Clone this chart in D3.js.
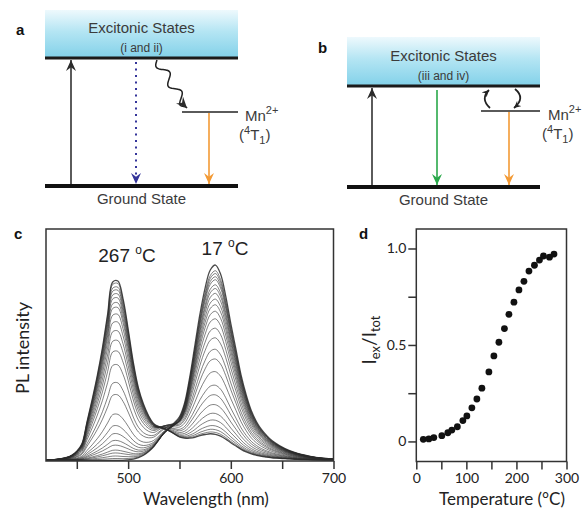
<!DOCTYPE html>
<html>
<head>
<meta charset="utf-8">
<script src="https://cdn.jsdelivr.net/npm/d3@7"></script>
<style>
  body { margin: 0; background: #fff; }
  svg { display: block; }
</style>
</head>
<body>
<div id="fig"></div>
<script>
// ---- data ----

// panel d: temperature (C) and I_ex / I_tot
var temps = [14, 25, 35, 51, 63, 71, 82, 93, 101, 111, 121, 131, 145, 155, 165, 176, 185, 195, 205, 215, 225, 236, 246, 254, 266, 275];
var ratio = [0.011, 0.013, 0.02, 0.03, 0.045, 0.059, 0.076, 0.108, 0.132, 0.174, 0.22, 0.276, 0.36, 0.443, 0.514, 0.585, 0.659, 0.722, 0.785, 0.83, 0.883, 0.913, 0.94, 0.961, 0.955, 0.971];

// panel c: wavelength grid (nm) and the two band shapes
var wavelengths = [420, 425, 430, 435, 440, 445, 450, 455, 460, 465, 470, 475, 480, 485, 490, 495, 500, 505, 510, 515,
  520, 525, 530, 535, 540, 545, 550, 555, 560, 565, 570, 575, 580, 585, 590, 595, 600, 605, 610, 615,
  620, 625, 630, 635, 640, 645, 650, 655, 660, 665, 670, 675, 680, 685, 690, 695, 700];
var excitonBand = [0.002, 0.004, 0.006, 0.01, 0.016, 0.028, 0.05, 0.09, 0.21, 0.33, 0.46, 0.61, 0.79, 0.965, 0.97, 0.875, 0.71, 0.53, 0.39, 0.3,
  0.235, 0.19, 0.17, 0.155, 0.14, 0.12, 0.1, 0.085, 0.07, 0.055, 0.045, 0.035, 0.028, 0.022, 0.018, 0.015, 0.012, 0.01, 0.008, 0.006,
  0.005, 0.004, 0.003, 0.003, 0.002, 0.002, 0.002, 0.002, 0.002, 0.001, 0.001, 0.001, 0.001, 0.001, 0.001, 0.001, 0.001];
var mnBand = [0, 0, 0, 0, 0, 0, 0, 0, 0, 0, 0, 0, 0, 0, 0, 0, 0.003, 0.007, 0.014, 0.026,
  0.045, 0.07, 0.105, 0.14, 0.165, 0.19, 0.22, 0.29, 0.42, 0.58, 0.74, 0.87, 0.96, 0.985, 0.94, 0.83, 0.69, 0.56, 0.43, 0.33,
  0.25, 0.195, 0.155, 0.125, 0.1, 0.082, 0.067, 0.054, 0.044, 0.036, 0.029, 0.023, 0.018, 0.014, 0.011, 0.009, 0.007];
// band amplitude of each spectrum, same order as temps
var excitonAmp = [0, 0.01, 0.023, 0.039, 0.054, 0.08, 0.105, 0.141, 0.183, 0.244, 0.347, 0.411, 0.506, 0.578, 0.635, 0.686, 0.733, 0.774, 0.81, 0.835, 0.861, 0.882, 0.902, 0.918, 0.938, 0.951];
var mnAmp = [1.02, 0.99, 0.975, 0.958, 0.942, 0.915, 0.895, 0.869, 0.838, 0.807, 0.771, 0.73, 0.679, 0.627, 0.566, 0.514, 0.447, 0.375, 0.324, 0.272, 0.226, 0.19, 0.16, 0.14, 0.125, 0.115];

var wlTicks = [450, 500, 550, 600, 650, 700];
var tempTicks = [0, 50, 100, 150, 200, 250, 300];
var ratioTicks = [0, 0.25, 0.5, 0.75, 1];

// ---- svg ----
var svg = d3.select("#fig").append("svg")
  .attr("width", 587)
  .attr("height", 509)
  .style("font-family", "'Liberation Sans', Arial, sans-serif");

var defs = svg.append("defs");
var grad = defs.append("linearGradient").attr("id", "exGrad")
  .attr("x1", 0).attr("y1", 0).attr("x2", 0).attr("y2", 1);
grad.append("stop").attr("offset", "0%").attr("stop-color", "#eef9fd");
grad.append("stop").attr("offset", "45%").attr("stop-color", "#b4e5f3");
grad.append("stop").attr("offset", "100%").attr("stop-color", "#82d1e9");

function marker(id, color, len, wid) {
  defs.append("marker").attr("id", id)
    .attr("viewBox", (-len) + " " + (-wid) + " " + (len + 1) + " " + (2 * wid))
    .attr("refX", 0).attr("refY", 0)
    .attr("markerUnits", "userSpaceOnUse")
    .attr("markerWidth", len + 1).attr("markerHeight", 2 * wid)
    .attr("orient", "auto")
    .append("path")
    .attr("d", "M0,0 L" + (-len) + "," + (-wid) + " L" + (-len * 0.65) + ",0 L" + (-len) + "," + wid + " Z")
    .attr("fill", color);
}
marker("arBlack", "#2b2b2b", 11, 5);
marker("arBlue", "#35359a", 11, 5);
marker("arOrange", "#f39a35", 11, 5);
marker("arGreen", "#2aa84a", 11, 5);
marker("arSmall", "#222", 7, 3.5);

var textCol = "#3b3b3b";

// ---- panels a and b: energy diagrams ----
function diagram(o) {
  var g = svg.append("g");
  g.append("rect")
    .attr("x", o.x0).attr("y", o.boxTop)
    .attr("width", o.x1 - o.x0).attr("height", o.top - o.boxTop)
    .attr("fill", "url(#exGrad)");
  g.append("line").attr("x1", o.x0).attr("x2", o.x1).attr("y1", o.top).attr("y2", o.top)
    .attr("stroke", "#1b1b1b").attr("stroke-width", 3);
  g.append("line").attr("x1", o.x0).attr("x2", o.x1).attr("y1", o.ground).attr("y2", o.ground)
    .attr("stroke", "#111").attr("stroke-width", 4);
  g.append("line").attr("x1", o.mnX0).attr("x2", o.x1).attr("y1", o.mn).attr("y2", o.mn)
    .attr("stroke", "#5a5a5a").attr("stroke-width", 2);

  var cx = (o.x0 + o.x1) / 2;
  g.append("text").attr("x", cx).attr("y", o.top - 25).attr("text-anchor", "middle")
    .attr("font-size", 15).attr("fill", textCol).text("Excitonic States");
  g.append("text").attr("x", cx).attr("y", o.top - 6).attr("text-anchor", "middle")
    .attr("font-size", 12).attr("fill", textCol).text(o.sub);
  g.append("text").attr("x", cx).attr("y", o.ground + 18).attr("text-anchor", "middle")
    .attr("font-size", 15).attr("fill", textCol).text("Ground State");

  var mnT = g.append("text").attr("x", o.mnLabelX).attr("y", o.mn + 9)
    .attr("font-size", 15).attr("fill", textCol);
  mnT.append("tspan").text("Mn");
  mnT.append("tspan").attr("font-size", 11).attr("dy", -7).text("2+");
  var tT = g.append("text").attr("x", o.mnLabelX - 6).attr("y", o.mn + 28)
    .attr("font-size", 15).attr("fill", textCol);
  tT.append("tspan").text("(");
  tT.append("tspan").attr("font-size", 11).attr("dy", -6).text("4");
  tT.append("tspan").attr("dy", 6).text("T");
  tT.append("tspan").attr("font-size", 11).attr("dy", 4).text("1");
  tT.append("tspan").attr("dy", -4).text(")");

  // excitation arrow
  g.append("line").attr("x1", o.upX).attr("x2", o.upX).attr("y1", o.ground - 2).attr("y2", o.top + 2)
    .attr("stroke", "#333").attr("stroke-width", 1.6).attr("marker-end", "url(#arBlack)");
  // excitonic emission
  g.append("line").attr("x1", o.exX).attr("x2", o.exX).attr("y1", o.top + 4).attr("y2", o.ground - 2)
    .attr("stroke", o.exColor).attr("stroke-width", o.dotted ? 2 : 1.6)
    .attr("stroke-dasharray", o.dotted ? "2,4.5" : null)
    .attr("marker-end", "url(#" + o.exMarker + ")");
  // Mn emission
  g.append("line").attr("x1", o.orX).attr("x2", o.orX).attr("y1", o.mn + 1).attr("y2", o.ground - 2)
    .attr("stroke", "#f39a35").attr("stroke-width", 1.6).attr("marker-end", "url(#arOrange)");
  return g;
}

var ga = diagram({x0: 45, x1: 238, boxTop: 10, top: 58, ground: 186, mn: 112, mnX0: 182,
  sub: "(i and ii)", mnLabelX: 245, upX: 71, exX: 136, exColor: "#35359a", exMarker: "arBlue",
  dotted: true, orX: 209});
var gb = diagram({x0: 347, x1: 540, boxTop: 37, top: 86, ground: 187, mn: 111, mnX0: 481,
  sub: "(iii and iv)", mnLabelX: 548, upX: 372, exX: 437, exColor: "#2aa84a", exMarker: "arGreen",
  dotted: false, orX: 509});

// wavy energy-transfer arrow (panel a)
var wav = [];
var p0 = [157, 60], p1 = [187, 108];
var dx = p1[0] - p0[0], dy = p1[1] - p0[1], L = Math.sqrt(dx * dx + dy * dy);
for (var k = 0; k <= 60; k++) {
  var t = k / 60, s = Math.sin(t * Math.PI * 5) * 4.5 * (t < 0.9 ? 1 : (1 - t) * 10);
  wav.push([p0[0] + dx * t - dy / L * s, p0[1] + dy * t + dx / L * s]);
}
ga.append("path").attr("d", d3.line().curve(d3.curveBasis)(wav))
  .attr("fill", "none").attr("stroke", "#222").attr("stroke-width", 1.5)
  .attr("marker-end", "url(#arBlack)");

// back and forth transfer arrows (panel b)
gb.append("path").attr("d", "M490,108 Q480,99 489,90")
  .attr("fill", "none").attr("stroke", "#222").attr("stroke-width", 1.8)
  .attr("marker-end", "url(#arSmall)");
gb.append("path").attr("d", "M515,89 Q526,98 514,108")
  .attr("fill", "none").attr("stroke", "#222").attr("stroke-width", 1.8)
  .attr("marker-end", "url(#arSmall)");

// panel letters
[["a", 16, 35], ["b", 318, 53], ["c", 14, 239], ["d", 359, 239]].forEach(function (p) {
  svg.append("text").attr("x", p[1]).attr("y", p[2]).attr("font-size", 15)
    .attr("font-weight", "bold").attr("fill", "#111").text(p[0]);
});

var axisFont = "Lato, 'Open Sans', sans-serif";

// ---- panel c: PL spectra ----
var xc = d3.scaleLinear().domain([420, 700]).range([46, 333.5]);
var yc = d3.scaleLinear().domain([-0.003, 1.19]).range([461, 229]);
var gc = svg.append("g");

var spectra = temps.map(function (t, i) {
  return wavelengths.map(function (w, j) {
    return [w, excitonAmp[i] * excitonBand[j] + mnAmp[i] * mnBand[j]];
  });
});
var specLine = d3.line()
  .x(function (d) { return xc(d[0]); })
  .y(function (d) { return yc(d[1]); })
  .curve(d3.curveCatmullRom.alpha(0.5));

gc.append("g").selectAll("path")
  .data(spectra)
  .enter()
  .append("path")
  .attr("d", specLine)
  .attr("fill", "none")
  .attr("stroke", "#2a2a2a")
  .attr("stroke-opacity", 0.85)
  .attr("stroke-width", function (d, i) { return (i === 0 || i === spectra.length - 1) ? 1.3 : 0.7; });

gc.append("rect").attr("x", 46).attr("y", 229).attr("width", 287.5).attr("height", 232)
  .attr("fill", "none").attr("stroke", "#333").attr("stroke-width", 1.5);

var xAxisC = gc.append("g").attr("transform", "translate(0,461)")
  .call(d3.axisBottom(xc).tickValues(wlTicks).tickSize(8).tickSizeOuter(0).tickPadding(4)
    .tickFormat(function (d) { return d % 100 === 0 ? d : ""; }));
xAxisC.select(".domain").remove();
xAxisC.selectAll("line").attr("stroke", "#333").attr("stroke-width", 1.5);
xAxisC.selectAll("text").attr("font-family", axisFont).attr("font-size", 14).attr("fill", "#222");

gc.append("text").attr("x", 206).attr("y", 505).attr("text-anchor", "middle")
  .attr("font-family", axisFont).attr("font-size", 17).attr("fill", "#222")
  .text("Wavelength (nm)");
gc.append("text").attr("transform", "translate(29,348) rotate(-90)").attr("text-anchor", "middle")
  .attr("font-family", axisFont).attr("font-size", 18).attr("fill", "#222")
  .text("PL intensity");

function degLabel(x, y, num) {
  var t = gc.append("text").attr("x", x).attr("y", y).attr("text-anchor", "middle")
    .attr("font-size", 19).attr("fill", "#222");
  t.append("tspan").text(num + " ");
  t.append("tspan").attr("font-size", 12).attr("dy", -8).text("o");
  t.append("tspan").attr("dy", 8).text("C");
}
degLabel(127, 262, "267");
degLabel(225, 255, "17");

// ---- panel d: I_ex / I_tot vs temperature ----
var xd = d3.scaleLinear().domain([0, 300]).range([416.3, 566.5]);
var yd = d3.scaleLinear().domain([-0.104, 1.101]).range([461.5, 229]);
var gd = svg.append("g");

gd.append("rect").attr("x", 416.3).attr("y", 229).attr("width", 150.2).attr("height", 232.5)
  .attr("fill", "none").attr("stroke", "#333").attr("stroke-width", 1.5);

var xAxisD = gd.append("g").attr("transform", "translate(0,461.5)")
  .call(d3.axisBottom(xd).tickValues(tempTicks).tickSize(8).tickSizeOuter(0).tickPadding(4)
    .tickFormat(function (d) { return d % 100 === 0 ? d : ""; }));
xAxisD.select(".domain").remove();
var yAxisD = gd.append("g").attr("transform", "translate(416.3,0)")
  .call(d3.axisLeft(yd).tickValues(ratioTicks).tickSize(8).tickSizeOuter(0).tickPadding(2)
    .tickFormat(function (d) { return d === 0 ? "0" : (d === 0.5 || d === 1) ? d3.format(".1f")(d) : ""; }));
yAxisD.select(".domain").remove();
gd.selectAll(".tick line").attr("stroke", "#333").attr("stroke-width", 1.5);
gd.selectAll(".tick text").attr("font-family", axisFont).attr("font-size", 14).attr("fill", "#222");

gd.append("g").selectAll("circle")
  .data(temps)
  .enter()
  .append("circle")
  .attr("cx", function (d) { return xd(d); })
  .attr("cy", function (d, i) { return yd(ratio[i]); })
  .attr("r", 3.4)
  .attr("fill", "#111");

gd.append("text").attr("x", 502).attr("y", 505).attr("text-anchor", "middle")
  .attr("font-family", axisFont).attr("font-size", 17).attr("fill", "#222")
  .text("Temperature (\u00B0C)");
var yl = gd.append("text").attr("transform", "translate(376,340) rotate(-90)").attr("text-anchor", "middle")
  .attr("font-family", axisFont).attr("font-size", 19).attr("fill", "#222");
yl.append("tspan").text("I");
yl.append("tspan").attr("font-size", 13).attr("dy", 4).text("ex");
yl.append("tspan").attr("dy", -4).text("/I");
yl.append("tspan").attr("font-size", 13).attr("dy", 4).text("tot");
</script>
</body>
</html>
